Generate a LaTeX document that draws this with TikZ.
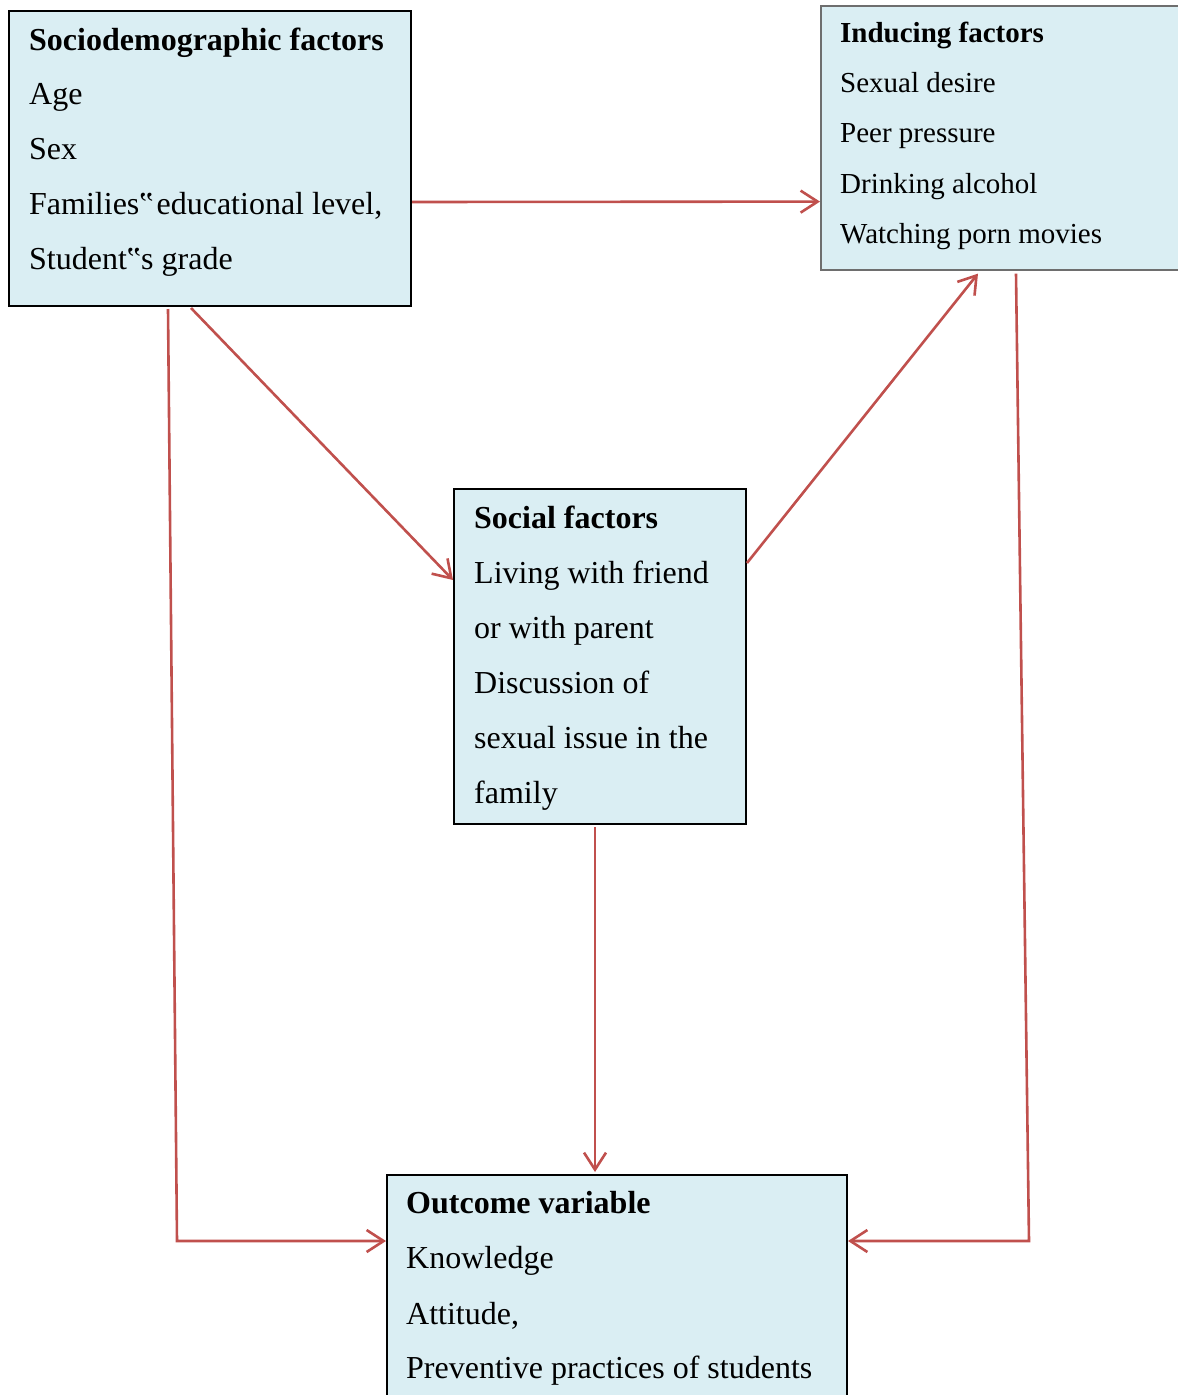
\documentclass[tikz,border=0pt]{standalone}
\usepackage{fontspec}
\setmainfont{Liberation Serif}
\usetikzlibrary{arrows.meta}
\definecolor{boxfill}{HTML}{DAEEF3}
\definecolor{arrowred}{HTML}{C0504D}
\definecolor{grayline}{HTML}{6E6E6E}
\tikzset{
  box/.style={draw=black, fill=boxfill, line width=2pt, anchor=north west, inner sep=0pt},
  link/.style={draw=arrowred, line width=2.6pt},
  arr/.style={link, -{Straight Barb[length=17pt,width=22pt,line width=2.6pt]}},
  txt/.style={anchor=base west, inner sep=0pt, font=\fontsize{32}{38}\selectfont},
  txtsmall/.style={anchor=base west, inner sep=0pt, font=\fontsize{29}{35}\selectfont},
}
\begin{document}
\begin{tikzpicture}[x=1pt,y=-1pt]
\useasboundingbox (0,0) rectangle (1178,1395);
\clip (0,0) rectangle (1178,1395);
% boxes
\node[box, minimum width=402pt, minimum height=295pt] (socio) at (8,10) {};
\node[box, draw=grayline, line width=1.6pt, minimum width=380pt, minimum height=264pt] (inducing) at (820,5) {};
\node[box, minimum width=292pt, minimum height=335pt] (social) at (453,488) {};
\node[box, minimum width=460pt, minimum height=240pt] (outcome) at (386,1174) {};
% texts: sociodemographic
\node[txt] (s0) at (29,50) {\bfseries Sociodemographic factors};
\node[txt] (s1) at (29,104) {Age};
\node[txt] (s2) at (29,159) {Sex};
\node[txt] (s3) at (29,214) {Families‟\hspace{-5pt} educational level,};
\node[txt] (s4) at (29,269) {Student‟s grade};
% inducing
\node[txtsmall] (i0) at (840,42) {\bfseries Inducing factors};
\node[txtsmall] (i1) at (840,92) {Sexual desire};
\node[txtsmall] (i2) at (840,142) {Peer pressure};
\node[txtsmall] (i3) at (840,193) {Drinking alcohol};
\node[txtsmall] (i4) at (840,243) {Watching porn movies};
% social
\node[txt] (c0) at (474,528) {\bfseries Social factors};
\node[txt] (c1) at (474,583) {Living with friend};
\node[txt] (c2) at (474,638) {or with parent};
\node[txt] (c3) at (474,693) {Discussion of};
\node[txt] (c4) at (474,748) {sexual issue in the};
\node[txt] (c5) at (474,803) {family};
% outcome
\node[txt] (o0) at (406,1213) {\bfseries Outcome variable};
\node[txt] (o1) at (406,1268) {Knowledge};
\node[txt] (o2) at (406,1324) {Attitude,};
\node[txt] (o3) at (406,1378) {Preventive practices of students};
% connectors
\draw[arr] ([yshift=105pt]socio.south east) -- ([yshift=69pt]inducing.south west);
\draw[arr] ([xshift=183pt,yshift=-1pt]socio.south west) -- ([yshift=-92pt]social.north west);
\draw[arr] ([yshift=-75pt]social.north east) -- ([xshift=158pt,yshift=-3pt]inducing.south west);
\draw[arr] ([xshift=142pt,yshift=-2pt]social.south west) -- ([xshift=209pt,yshift=2pt]outcome.north west);
\coordinate (k1) at (177,1241);
\coordinate (k2) at (1029,1241);
\draw[arr] ([xshift=160pt,yshift=-2pt]socio.south west) -- (k1) -- (outcome.west |- k1);
\draw[arr] ([xshift=196pt,yshift=-3pt]inducing.south west) -- (k2) -- (outcome.east |- k2);
\end{tikzpicture}
\end{document}
